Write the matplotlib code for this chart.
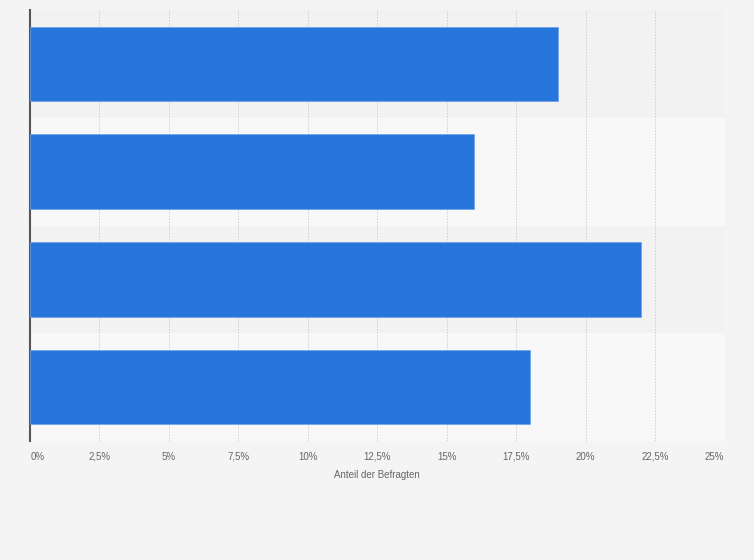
import matplotlib
matplotlib.use("Agg")
import matplotlib.pyplot as plt
from matplotlib.ticker import FixedLocator

categories = ["Kategorie 1", "Kategorie 2", "Kategorie 3", "Kategorie 4"]
values = [19, 16, 22, 18]
xticks = [0, 2.5, 5, 7.5, 10, 12.5, 15, 17.5, 20, 22.5, 25]
xticklabels = ["0%", "2,5%", "5%", "7,5%", "10%", "12,5%", "15%", "17,5%", "20%", "22,5%", "25%"]
xlabel = "Anteil der Befragten"

plt.rcParams['font.family'] = 'Liberation Sans'

fig = plt.figure(figsize=(7.54, 5.60), dpi=100)
fig.patch.set_facecolor('#f4f4f4')
L, R = 30.0, 724.5
ax = fig.add_axes([L/754, 1-441/560, (R-L)/754, (441-10)/560])
ax.set_facecolor('#f4f4f4')

n = len(categories)
ypos = list(range(n))
# alternating bands
for i in ypos:
    col = '#f2f2f2' if i % 2 == 0 else '#f8f8f8'
    ax.axhspan(i - 0.5, i + 0.5, color=col, zorder=0, lw=0)

ax.barh(ypos, values, height=0.69, color='#2776dc', edgecolor='#6aa0e8', linewidth=0.5, zorder=3)

ax.set_xlim(0, 25)
ax.set_ylim(n - 0.5, -0.5)
ax.xaxis.set_major_locator(FixedLocator(xticks))
ax.set_xticklabels([])
ax.set_yticks([])
ax.tick_params(axis='x', length=0)
for xv, lab in zip(xticks, xticklabels):
    ha = 'center'
    dx = 0
    if xv == xticks[0]:
        ha = 'left'; dx = 1
    elif xv == xticks[-1]:
        ha = 'right'; dx = 0
    ax.annotate(lab, xy=(xv, 0), xycoords=('data', 'axes fraction'),
                xytext=(dx, -18.6), textcoords='offset pixels',
                ha=ha, va='baseline', fontsize=7, color='#666666',
                fontfamily='Liberation Sans')
ax.grid(axis='x', color='#cfcfcf', linestyle=(0, (1.5, 1.5)), linewidth=0.7, zorder=1)
ax.set_axisbelow(True)
for s in ['top', 'right', 'bottom']:
    ax.spines[s].set_visible(False)
ax.spines['left'].set_color('#555555')
ax.spines['left'].set_linewidth(1.5)
ax.text(0.5, -37/431, xlabel, transform=ax.transAxes, ha='center', va='baseline',
        fontsize=7, color='#666666')

fig.savefig('out.png', dpi=100, facecolor=fig.get_facecolor())
